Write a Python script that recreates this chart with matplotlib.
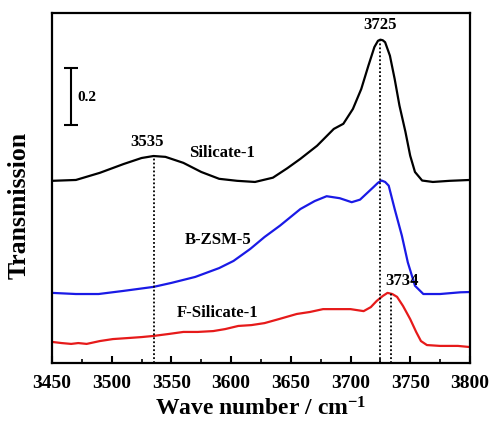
import matplotlib
matplotlib.use("Agg")
import matplotlib.pyplot as plt
from matplotlib.ticker import MultipleLocator

plt.rcParams["font.family"] = ["Liberation Serif", "DejaVu Serif"]
plt.rcParams["font.weight"] = "bold"
plt.rcParams["mathtext.default"] = "regular"

# Silicate-1 (black)
w_sil = [3450, 3470, 3490, 3510, 3525, 3535, 3545, 3560, 3575, 3590, 3605, 3620,
         3635, 3647, 3658, 3672, 3686, 3694, 3702, 3709, 3715, 3720, 3723, 3725,
         3727, 3729, 3733, 3737, 3741, 3746, 3750, 3754, 3760, 3769, 3783, 3800]
t_sil = [0.639, 0.642, 0.667, 0.698, 0.719, 0.726, 0.723, 0.702, 0.670, 0.646, 0.639, 0.635,
         0.650, 0.683, 0.716, 0.762, 0.821, 0.839, 0.891, 0.961, 1.043, 1.108, 1.130, 1.134,
         1.132, 1.125, 1.078, 0.996, 0.903, 0.811, 0.727, 0.670, 0.640, 0.635, 0.639, 0.642]

# B-ZSM-5 (blue)
w_bz = [3450, 3470, 3489, 3510, 3535, 3550, 3570, 3590, 3602, 3616, 3628, 3641,
        3658, 3670, 3680, 3691, 3701, 3708, 3719, 3723, 3726, 3729, 3732, 3737,
        3743, 3748, 3754, 3761, 3775, 3792, 3800]
t_bz = [0.246, 0.242, 0.242, 0.253, 0.267, 0.281, 0.302, 0.333, 0.358, 0.400, 0.442, 0.482,
        0.540, 0.568, 0.585, 0.578, 0.564, 0.573, 0.616, 0.632, 0.640, 0.635, 0.622, 0.540,
        0.447, 0.353, 0.271, 0.242, 0.242, 0.248, 0.249]

# F-Silicate-1 (red)
w_fs = [3450, 3458, 3466, 3472, 3479, 3490, 3501, 3515, 3525, 3535, 3548, 3560,
        3572, 3585, 3595, 3606, 3617, 3628, 3640, 3655, 3666, 3677, 3690, 3700,
        3711, 3717, 3722, 3727, 3731, 3735, 3739, 3744, 3750, 3755, 3759, 3764,
        3775, 3790, 3800]
t_fs = [0.074, 0.070, 0.067, 0.070, 0.067, 0.077, 0.084, 0.088, 0.091, 0.095, 0.102, 0.109,
        0.109, 0.112, 0.119, 0.130, 0.133, 0.140, 0.154, 0.172, 0.179, 0.189, 0.189, 0.189,
        0.182, 0.196, 0.218, 0.235, 0.246, 0.242, 0.232, 0.200, 0.154, 0.109, 0.077, 0.063,
        0.060, 0.060, 0.056]

# marked peaks: position, height of the curve there
peak_pos = [3535, 3725, 3734]
peak_top = [0.726, 1.134, 0.244]

fig = plt.figure(figsize=(4.91, 4.27), dpi=100)
ax = fig.add_axes([0.106, 0.1475, 0.851, 0.82])

ax.plot(w_sil, t_sil, color="black", lw=1.6)
ax.plot(w_bz, t_bz, color="#1a1ae6", lw=1.6)
ax.plot(w_fs, t_fs, color="#e61a1a", lw=1.6)

for p, top in zip(peak_pos, peak_top):
    ax.vlines(p, 0, top, colors="black", linestyles=(0, (1, 1.2)), lw=1.3)

# scale bar 0.2
ax.errorbar([3466], [0.935], yerr=[0.1], color="black", lw=1.5, capsize=5, capthick=1.5)
ax.text(3471, 0.933, "0.2", fontsize=11, va="center", ha="left", fontweight="bold")

ax.text(3725, 1.16, "3725", fontsize=12, ha="center", va="bottom", fontweight="bold")
ax.text(3530, 0.752, "3535", fontsize=12, ha="center", va="bottom", fontweight="bold")
ax.text(3743, 0.262, "3734", fontsize=12, ha="center", va="bottom", fontweight="bold")
ax.text(3592, 0.740, "Silicate-1", fontsize=12, ha="center", va="center", fontweight="bold")
ax.text(3589, 0.435, "B-ZSM-5", fontsize=12, ha="center", va="center", fontweight="bold")
ax.text(3589, 0.179, "F-Silicate-1", fontsize=12, ha="center", va="center", fontweight="bold")

ax.set_xlim(3450, 3800)
ax.set_ylim(0, 1.228)
ax.xaxis.set_major_locator(MultipleLocator(50))
ax.xaxis.set_minor_locator(MultipleLocator(25))
ax.tick_params(axis="x", which="major", direction="in", length=5, width=1.5,
               labelsize=14, pad=8)
ax.tick_params(axis="x", which="minor", direction="in", length=3, width=1.2)
ax.set_yticks([])
for lab in ax.get_xticklabels():
    lab.set_fontweight("bold")
for s in ax.spines.values():
    s.set_linewidth(1.6)

ax.set_xlabel("Wave number / cm$^{-1}$", fontsize=17, fontweight="bold", labelpad=4)
ax.set_ylabel("Transmission", fontsize=18.5, fontweight="bold")
ax.yaxis.set_label_coords(-0.052, 0.454)

fig.savefig("out.png", dpi=100)
